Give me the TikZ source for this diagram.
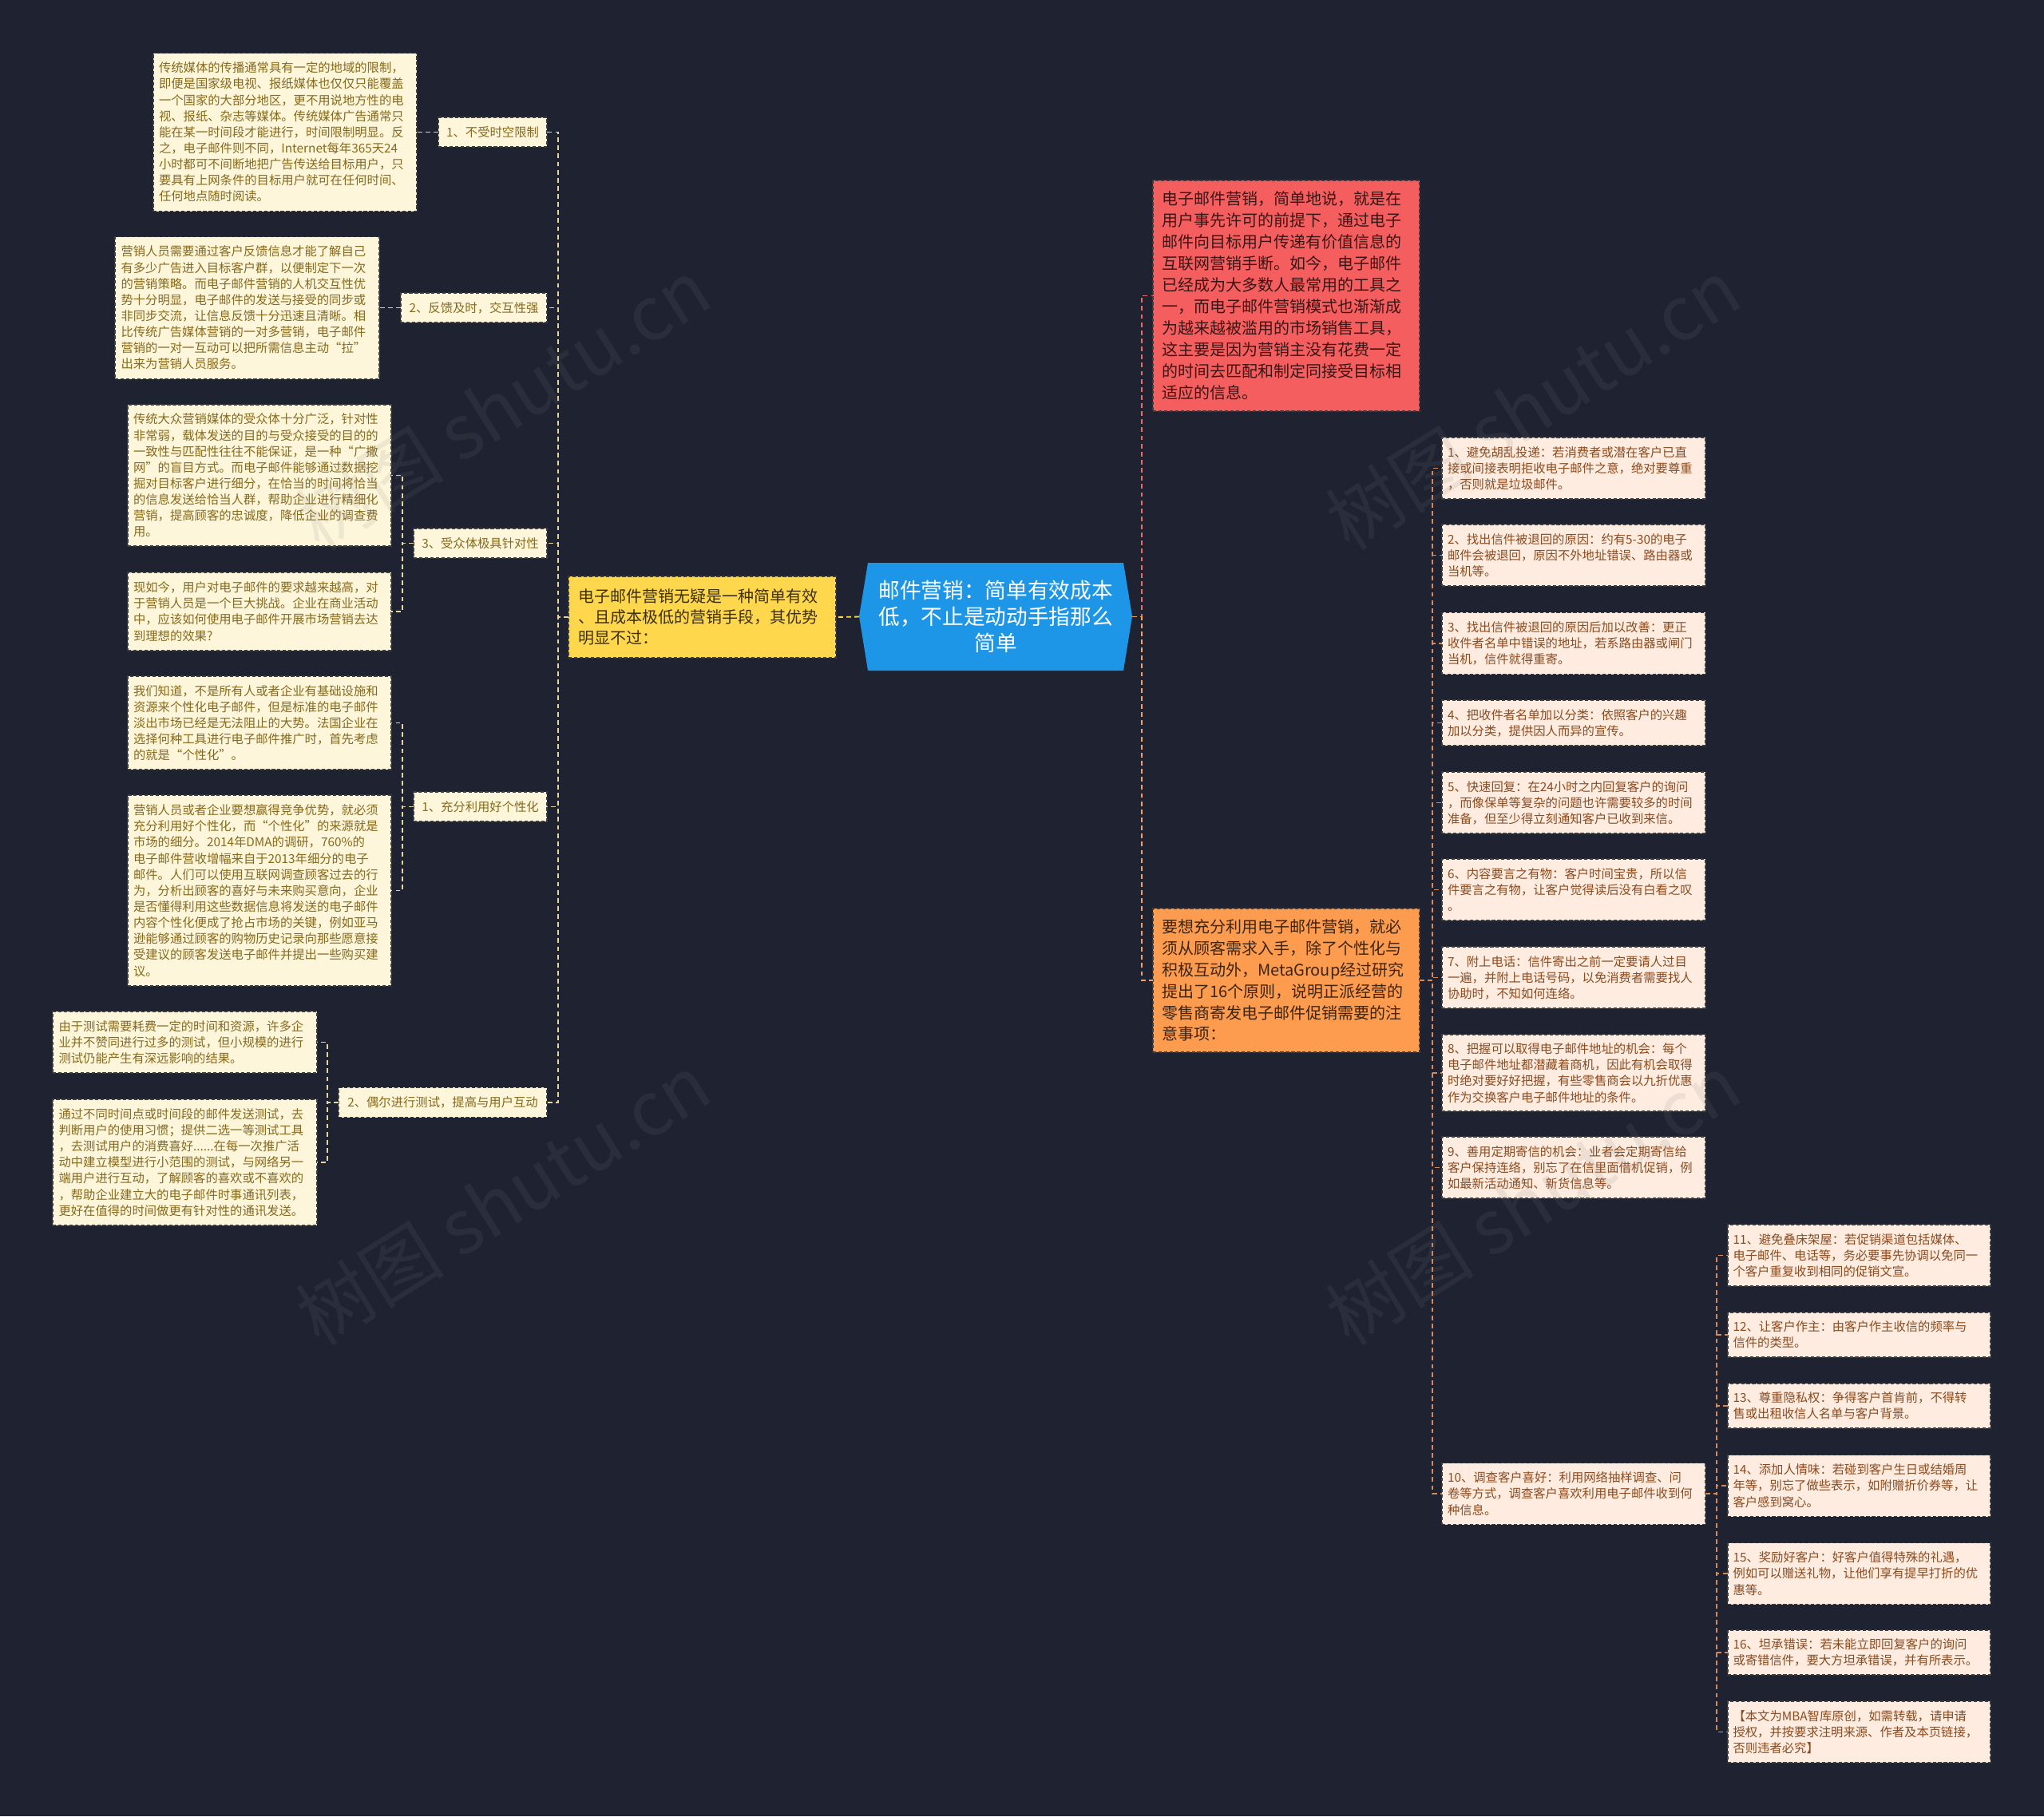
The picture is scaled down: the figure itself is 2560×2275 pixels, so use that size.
\documentclass[tikz,border=0pt]{standalone}
\usepackage{fontspec}
\setmainfont{Noto Sans CJK SC}
\usetikzlibrary{calc}

\definecolor{bgc}{HTML}{1F2231}
\definecolor{creamfill}{HTML}{FDF6DA}
\definecolor{creamtext}{HTML}{86691C}
\definecolor{peachfill}{HTML}{FDECDF}
\definecolor{peachtext}{HTML}{8C4A1F}
\definecolor{bordc}{HTML}{3C3C3C}
\definecolor{redfill}{HTML}{F55E5E}
\definecolor{redtext}{HTML}{3A1515}
\definecolor{orfill}{HTML}{FD9B4F}
\definecolor{ortext}{HTML}{3D2410}
\definecolor{yelfill}{HTML}{FED74D}
\definecolor{yeltext}{HTML}{3D3010}
\definecolor{bluefill}{HTML}{1D96E8}
\definecolor{lconn}{HTML}{E6D69C}
\definecolor{yconn}{HTML}{FED74D}
\definecolor{rconn}{HTML}{EE6B66}
\definecolor{oconn}{HTML}{F5A15C}
\definecolor{iconn}{HTML}{D98A52}

\tikzset{
  basebox/.style={inner sep=0pt, outer sep=0pt, line width=0.5pt, dash pattern=on 1.6pt off 1pt, draw=bordc},
  smallfont/.style={font=\fontsize{5.75pt}{7.55pt}\selectfont},
  leaf/.style={basebox, smallfont, fill=creamfill, text=creamtext, align=left, text width=118.5pt, minimum width=123.75pt},
  lab/.style={basebox, smallfont, fill=creamfill, text=creamtext, minimum height=13.9pt},
  item/.style={basebox, smallfont, fill=peachfill, text=peachtext, align=left, text width=118.5pt, minimum width=123.75pt},
  bigbox/.style={basebox, font=\fontsize{7.5pt}{10.1pt}\selectfont, align=left, text width=117pt, minimum width=125.25pt},
  rootn/.style={inner sep=0pt, outer sep=0pt, minimum width=128.25pt, minimum height=51pt, text width=120pt, align=center, text=white, font=\fontsize{10pt}{12.4pt}\selectfont},
  conn/.style={line width=0.7pt, dash pattern=on 2.2pt off 1.6pt},
  wmark/.style={text=gray, opacity=0.12, rotate=32, font=\fontsize{35pt}{35pt}\selectfont}
}

\begin{document}
\begin{tikzpicture}[x=0.375pt, y=-0.375pt]
\useasboundingbox (0,0) rectangle (2560,2275);
\fill[bgc] (0,0) rectangle (2560,2275);

% central topic
\fill[bluefill] (1076,772) -- (1087,705) -- (1407,705) -- (1418,772) -- (1407,840) -- (1087,840) -- cycle;
\node[rootn] (root) at (1247,772.5) {邮件营销：简单有效成本\\低，不止是动动手指那么\\简单};

% left branch
\node[basebox, fill=yelfill, text=yeltext, font=\fontsize{7.5pt}{9.8pt}\selectfont, align=left, text width=116.6pt, minimum width=125.6pt, minimum height=38.25pt] (Y) at (879.5,773) {电子邮件营销无疑是一种简单有效\\、且成本极低的营销手段，其优势\\明显不过：};

\node[lab, minimum width=51pt] (L1) at (617,165.5) {1、不受时空限制};
\node[lab, minimum width=68.6pt] (L2) at (593.5,385.5) {2、反馈及时，交互性强};
\node[lab, minimum width=62.6pt] (L3) at (601.5,680.5) {3、受众体极具针对性};
\node[lab, minimum width=62.6pt] (L4) at (601.5,1010.5) {1、充分利用好个性化};
\node[lab, minimum width=97.9pt] (L5) at (554.5,1381) {2、偶尔进行测试，提高与用户互动};

\node[leaf, minimum height=74.25pt] (L1a) at (357,165.5) {传统媒体的传播通常具有一定的地域的限制，\\即便是国家级电视、报纸媒体也仅仅只能覆盖\\一个国家的大部分地区，更不用说地方性的电\\视、报纸、杂志等媒体。传统媒体广告通常只\\能在某一时间段才能进行，时间限制明显。反\\之，电子邮件则不同，Internet每年365天24\\小时都可不间断地把广告传送给目标用户，只\\要具有上网条件的目标用户就可在任何时间、\\任何地点随时阅读。};

\node[leaf, minimum width=124.1pt, minimum height=66.75pt] (L2a) at (309.5,385.5) {营销人员需要通过客户反馈信息才能了解自己\\有多少广告进入目标客户群，以便制定下一次\\的营销策略。而电子邮件营销的人机交互性优\\势十分明显，电子邮件的发送与接受的同步或\\非同步交流，让信息反馈十分迅速且清晰。相\\比传统广告媒体营销的一对多营销，电子邮件\\营销的一对一互动可以把所需信息主动“拉”\\出来为营销人员服务。};

\node[leaf, minimum height=66.4pt] (L3a) at (325,595.5) {传统大众营销媒体的受众体十分广泛，针对性\\非常弱，载体发送的目的与受众接受的目的的\\一致性与匹配性往往不能保证，是一种“广撒\\网”的盲目方式。而电子邮件能够通过数据挖\\掘对目标客户进行细分，在恰当的时间将恰当\\的信息发送给恰当人群，帮助企业进行精细化\\营销，提高顾客的忠诚度，降低企业的调查费\\用。};

\node[leaf, minimum height=36.75pt] (L3b) at (325,766) {现如今，用户对电子邮件的要求越来越高，对\\于营销人员是一个巨大挑战。企业在商业活动\\中，应该如何使用电子邮件开展市场营销去达\\到理想的效果?};

\node[leaf, minimum height=43.9pt] (L4a) at (325,905.5) {我们知道，不是所有人或者企业有基础设施和\\资源来个性化电子邮件，但是标准的电子邮件\\淡出市场已经是无法阻止的大势。法国企业在\\选择何种工具进行电子邮件推广时，首先考虑\\的就是“个性化”。};

\node[leaf, minimum height=89.6pt] (L4b) at (325,1115.5) {营销人员或者企业要想赢得竞争优势，就必须\\充分利用好个性化，而“个性化”的来源就是\\市场的细分。2014年DMA的调研，760\%的\\电子邮件营收增幅来自于2013年细分的电子\\邮件。人们可以使用互联网调查顾客过去的行\\为，分析出顾客的喜好与未来购买意向，企业\\是否懂得利用这些数据信息将发送的电子邮件\\内容个性化便成了抢占市场的关键，例如亚马\\逊能够通过顾客的购物历史记录向那些愿意接\\受建议的顾客发送电子邮件并提出一些购买建\\议。};

\node[leaf, minimum width=124.1pt, minimum height=28.9pt] (L5a) at (231.5,1305.5) {由于测试需要耗费一定的时间和资源，许多企\\业并不赞同进行过多的测试，但小规模的进行\\测试仍能产生有深远影响的结果。};

\node[leaf, minimum width=124.1pt, minimum height=59.25pt] (L5b) at (231.5,1456) {通过不同时间点或时间段的邮件发送测试，去\\判断用户的使用习惯；提供二选一等测试工具\\，去测试用户的消费喜好......在每一次推广活\\动中建立模型进行小范围的测试，与网络另一\\端用户进行互动，了解顾客的喜欢或不喜欢的\\，帮助企业建立大的电子邮件时事通讯列表，\\更好在值得的时间做更有针对性的通讯发送。};

% right branch
\node[bigbox, fill=redfill, text=redtext, minimum height=108.4pt] (Rd) at (1611,370.5) {电子邮件营销，简单地说，就是在\\用户事先许可的前提下，通过电子\\邮件向目标用户传递有价值信息的\\互联网营销手断。如今，电子邮件\\已经成为大多数人最常用的工具之\\一，而电子邮件营销模式也渐渐成\\为越来越被滥用的市场销售工具，\\这主要是因为营销主没有花费一定\\的时间去匹配和制定同接受目标相\\适应的信息。};

\node[bigbox, fill=orfill, text=ortext, minimum height=67.5pt] (Or) at (1611,1228) {要想充分利用电子邮件营销，就必\\须从顾客需求入手，除了个性化与\\积极互动外，MetaGroup经过研究\\提出了16个原则，说明正派经营的\\零售商寄发电子邮件促销需要的注\\意事项：};

\node[item, minimum height=28.9pt] (R1) at (1971,586.5) {1、避免胡乱投递：若消费者或潜在客户已直\\接或间接表明拒收电子邮件之意，绝对要尊重\\，否则就是垃圾邮件。};
\node[item, minimum height=28.9pt] (R2) at (1971,695.5) {2、找出信件被退回的原因：约有5-30的电子\\邮件会被退回，原因不外地址错误、路由器或\\当机等。};
\node[item, minimum height=28.9pt] (R3) at (1971,806) {3、找出信件被退回的原因后加以改善：更正\\收件者名单中错误的地址，若系路由器或闸门\\当机，信件就得重寄。};
\node[item, minimum height=21.4pt] (R4) at (1971,905.5) {4、把收件者名单加以分类：依照客户的兴趣\\加以分类，提供因人而异的宣传。};
\node[item, minimum height=28.9pt] (R5) at (1971,1005.5) {5、快速回复：在24小时之内回复客户的询问\\，而像保单等复杂的问题也许需要较多的时间\\准备，但至少得立刻通知客户已收到来信。};
\node[item, minimum height=28.9pt] (R6) at (1971,1114.5) {6、内容要言之有物：客户时间宝贵，所以信\\件要言之有物，让客户觉得读后没有白看之叹\\。};
\node[item, minimum height=28.9pt] (R7) at (1971,1224.5) {7、附上电话：信件寄出之前一定要请人过目\\一遍，并附上电话号码，以免消费者需要找人\\协助时，不知如何连络。};
\node[item, minimum height=36pt] (R8) at (1971,1344) {8、把握可以取得电子邮件地址的机会：每个\\电子邮件地址都潜藏着商机，因此有机会取得\\时绝对要好好把握，有些零售商会以九折优惠\\作为交换客户电子邮件地址的条件。};
\node[item, minimum height=28.9pt] (R9) at (1971,1462.5) {9、善用定期寄信的机会：业者会定期寄信给\\客户保持连络，别忘了在信里面借机促销，例\\如最新活动通知、新货信息等。};
\node[item, minimum height=28.9pt] (R10) at (1971,1871) {10、调查客户喜好：利用网络抽样调查、问\\卷等方式，调查客户喜欢利用电子邮件收到何\\种信息。};

\node[item, minimum width=123.4pt, minimum height=28.9pt] (S11) at (2328.5,1572.5) {11、避免叠床架屋：若促销渠道包括媒体、\\电子邮件、电话等，务必要事先协调以免同一\\个客户重复收到相同的促销文宣。};
\node[item, minimum width=123.4pt, minimum height=21pt] (S12) at (2328.5,1672) {12、让客户作主：由客户作主收信的频率与\\信件的类型。};
\node[item, minimum width=123.4pt, minimum height=21pt] (S13) at (2328.5,1761) {13、尊重隐私权：争得客户首肯前，不得转\\售或出租收信人名单与客户背景。};
\node[item, minimum width=123.4pt, minimum height=28.9pt] (S14) at (2328.5,1861) {14、添加人情味：若碰到客户生日或结婚周\\年等，别忘了做些表示，如附赠折价券等，让\\客户感到窝心。};
\node[item, minimum width=123.4pt, minimum height=28.9pt] (S15) at (2328.5,1971) {15、奖励好客户：好客户值得特殊的礼遇，\\例如可以赠送礼物，让他们享有提早打折的优\\惠等。};
\node[item, minimum width=123.4pt, minimum height=21pt] (S16) at (2328.5,2070) {16、坦承错误：若未能立即回复客户的询问\\或寄错信件，要大方坦承错误，并有所表示。};
\node[item, minimum width=123.4pt, minimum height=28.9pt] (S17) at (2328.5,2169.5) {【本文为MBA智库原创，如需转载，请申请\\授权，并按要求注明来源、作者及本页链接，\\否则违者必究】};

% connectors left
\draw[conn, yconn] (root.west) -- (Y.west -| Y.east);
\foreach \n in {L1,L2,L3,L4,L5} \draw[conn, lconn] (Y.west) -- ++(-13,0) |- (\n.east);
\draw[conn, lconn] (L1.west) -- (L1a.east);
\draw[conn, lconn] (L2.west) -- (L2a.east);
\foreach \n in {L3a,L3b} \draw[conn, lconn] (L3.west) -- ++(-14,0) |- (\n.east);
\foreach \n in {L4a,L4b} \draw[conn, lconn] (L4.west) -- ++(-14,0) |- (\n.east);
\foreach \n in {L5a,L5b} \draw[conn, lconn] (L5.west) -- ++(-14,0) |- (\n.east);

% connectors right
\draw[conn, rconn] (root.east) -- ++(12,0) |- (Rd.west);
\draw[conn, oconn] (root.east) -- ++(12,0) |- (Or.west);
\foreach \n in {1,...,10} \draw[conn, iconn] (Or.east) -- ++(16,0) |- (R\n.west);
\foreach \n in {11,...,17} \draw[conn, iconn] (R10.east) -- ++(14,0) |- (S\n.west);

% watermarks
\node[wmark] (wm1) at (630,506) {树图 shutu.cn};
\node[wmark] (wm2) at (630,1502) {树图 shutu.cn};
\node[wmark] (wm3) at (1920,506) {树图 shutu.cn};
\node[wmark] (wm4) at (1920,1502) {树图 shutu.cn};
\end{tikzpicture}
\end{document}
